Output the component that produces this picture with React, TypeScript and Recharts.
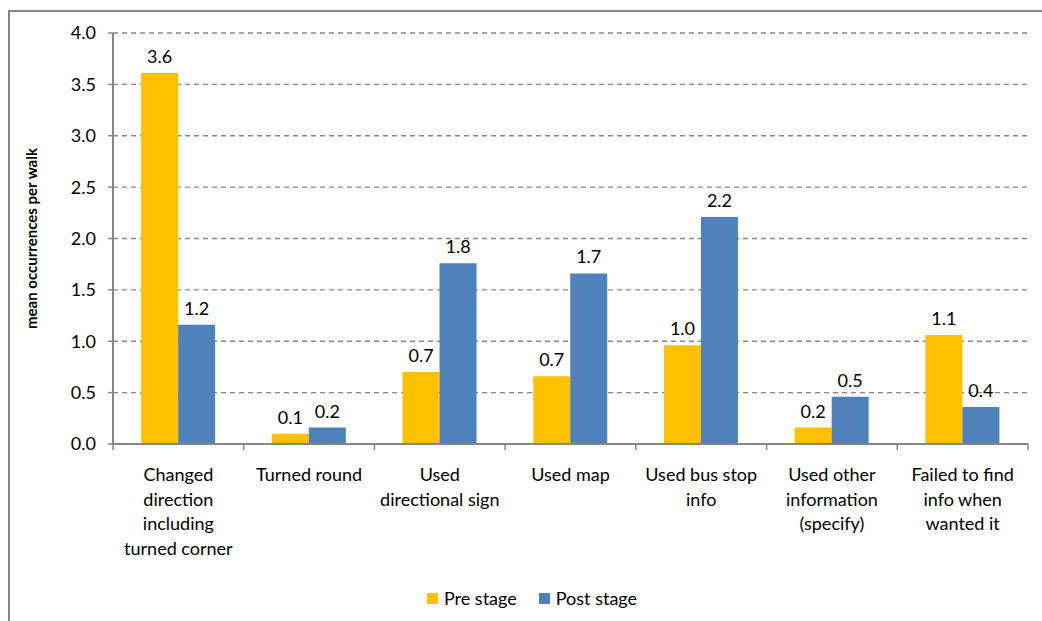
import React from 'react';
import { BarChart, Bar, XAxis, YAxis, CartesianGrid, Legend, LabelList, Label } from 'recharts';

const categories = [
  ['Changed', 'direction', 'including', 'turned corner'],
  ['Turned round'],
  ['Used', 'directional sign'],
  ['Used map'],
  ['Used bus stop', 'info'],
  ['Used other', 'information', '(specify)'],
  ['Failed to find', 'info when', 'wanted it'],
];
const preStage = [3.61, 0.1, 0.7, 0.66, 0.96, 0.16, 1.06];
const postStage = [1.16, 0.16, 1.76, 1.66, 2.21, 0.46, 0.36];
const yTicks = [0, 0.5, 1, 1.5, 2, 2.5, 3, 3.5, 4];

const data = categories.map((lines, i) => ({
  name: lines.join(' '),
  lines,
  pre: preStage[i],
  post: postStage[i],
}));

const FONT = 'Lato, "Open Sans", sans-serif';
const AXIS = '#868686';
const FS = 18;

// category label plus the boundary tick marks Excel draws between categories
const CategoryTick = (props: any) => {
  const { x, y, payload, index, width, visibleTicksCount } = props;
  const band = width / visibleTicksCount;
  const lines: string[] = data[index]?.lines ?? [payload.value];
  const axisY = y - 8;
  return (
    <g>
      <line x1={x - band / 2} x2={x - band / 2} y1={axisY} y2={axisY + 6} stroke={AXIS} strokeWidth={1.5} />
      {index === visibleTicksCount - 1 && (
        <line x1={x + band / 2} x2={x + band / 2} y1={axisY} y2={axisY + 6} stroke={AXIS} strokeWidth={1.5} />
      )}
      <text x={x} y={axisY + 37} textAnchor="middle" fontSize={FS} fill="#000" fontFamily={FONT}>
        {lines.map((l, i) => (
          <tspan key={i} x={x} dy={i === 0 ? 0 : 24.6}>{l}</tspan>
        ))}
      </text>
    </g>
  );
};

const LegendContent = () => (
  <div style={{ display: 'flex', justifyContent: 'center', alignItems: 'center', height: 24, fontFamily: FONT, fontSize: FS, color: '#000', paddingLeft: 36 }}>
    <span style={{ display: 'inline-block', width: 11, height: 11, background: '#FFC000', marginRight: 6 }} />
    <span style={{ marginRight: 22 }}>Pre stage</span>
    <span style={{ display: 'inline-block', width: 11, height: 11, background: '#4F81BD', marginRight: 6 }} />
    <span>Post stage</span>
  </div>
);

export default function App() {
  return (
    <div style={{ position: 'absolute', left: 0, top: 0, width: 1042, height: 621, overflow: 'hidden', background: '#fff' }}>
      <div style={{ position: 'absolute', left: 8, top: 10, width: 1100, height: 700, border: `2px solid ${AXIS}`, boxSizing: 'border-box' }} />
      <div style={{ position: 'absolute', left: 0, top: 0 }}>
        <BarChart
          width={1042}
          height={621}
          data={data}
          margin={{ top: 33, right: 14, left: 0, bottom: 11 }}
          barGap={0}
          barCategoryGap="21.5%"
        >
          <CartesianGrid vertical={false} stroke={AXIS} strokeDasharray="5 4" strokeWidth={1.3} />
          <XAxis
            dataKey="name"
            height={142}
            interval={0}
            tick={<CategoryTick />}
            tickLine={false}
            axisLine={{ stroke: AXIS, strokeWidth: 2 }}
          />
          <YAxis
            width={113}
            domain={[0, 4]}
            ticks={yTicks}
            interval={0}
            tickFormatter={(v: number) => v.toFixed(1)}
            tick={{ fill: '#000', fontSize: FS, fontFamily: FONT }}
            tickSize={5}
            tickMargin={12}
            tickLine={{ stroke: AXIS, strokeWidth: 1.5 }}
            axisLine={{ stroke: AXIS, strokeWidth: 2 }}
          >
            <Label
              content={(p: any) => {
                const vb = p.viewBox;
                const cx = vb.x + 31;
                const cy = vb.y + vb.height / 2;
                return (
                  <text x={cx} y={cy} transform={`rotate(-90 ${cx} ${cy})`} textAnchor="middle" dominantBaseline="central" fontSize={15} fontWeight="bold" fill="#000" fontFamily={FONT}>
                    mean occurrences per walk
                  </text>
                );
              }}
            />
          </YAxis>
          <Legend verticalAlign="bottom" height={24} content={<LegendContent />} />
          <Bar dataKey="pre" name="Pre stage" fill="#FFC000" isAnimationActive={false}>
            <LabelList dataKey="pre" position="top" offset={10} formatter={(v: any) => Number(v).toFixed(1)} style={{ fill: '#000', fontSize: FS, fontFamily: FONT }} />
          </Bar>
          <Bar dataKey="post" name="Post stage" fill="#4F81BD" isAnimationActive={false}>
            <LabelList dataKey="post" position="top" offset={10} formatter={(v: any) => Number(v).toFixed(1)} style={{ fill: '#000', fontSize: FS, fontFamily: FONT }} />
          </Bar>
        </BarChart>
      </div>
    </div>
  );
}
